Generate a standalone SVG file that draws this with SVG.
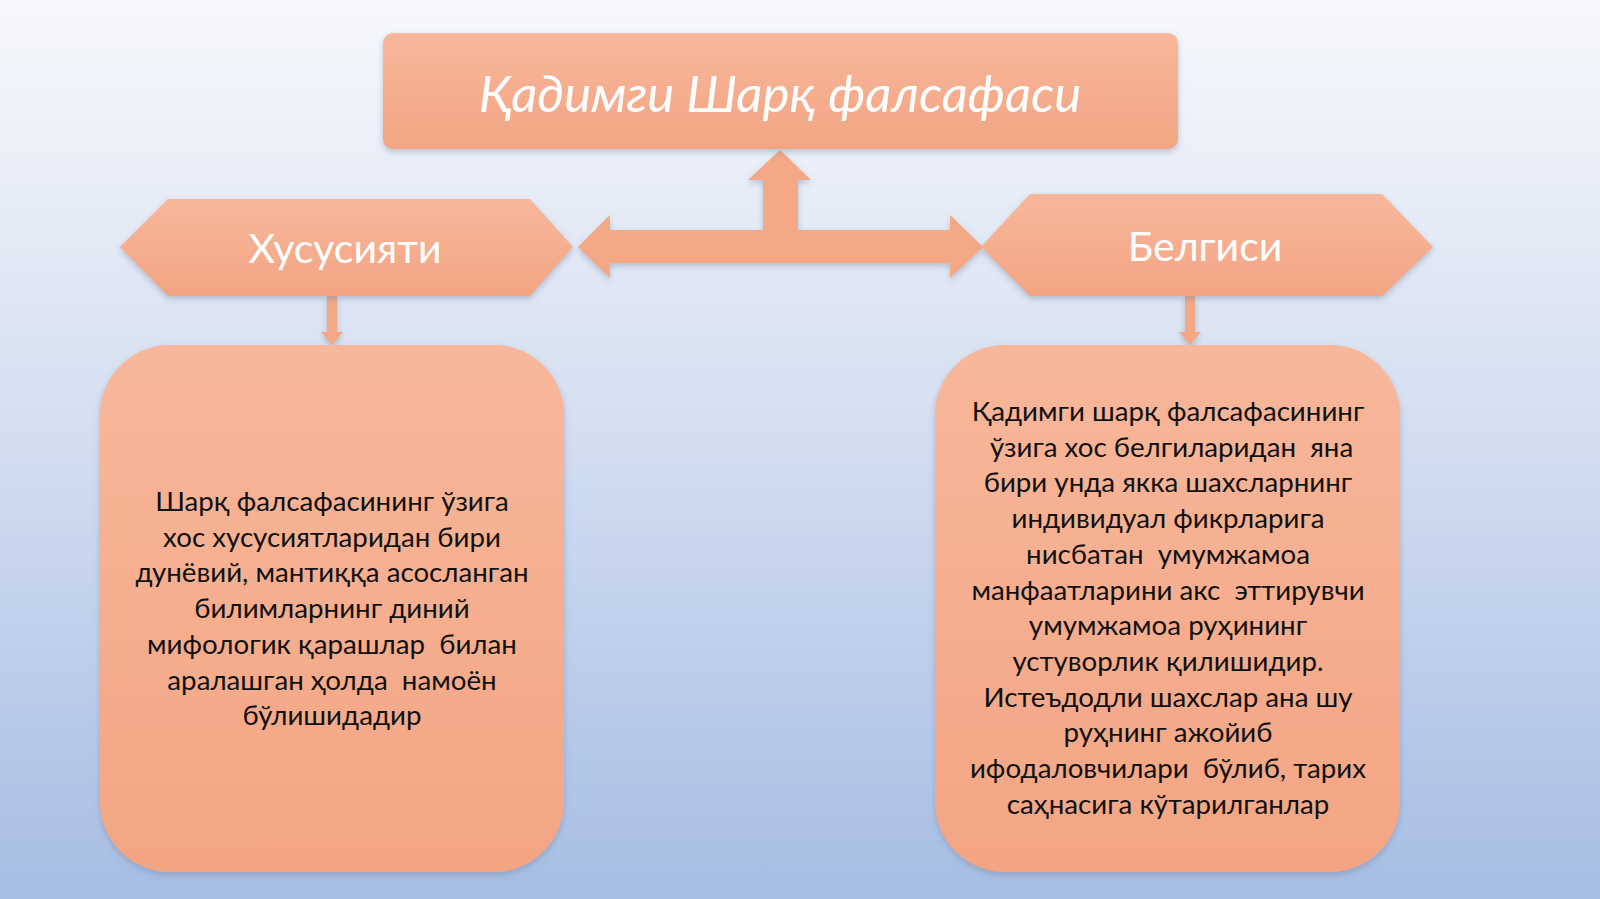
<svg xmlns="http://www.w3.org/2000/svg" width="1600" height="899" viewBox="0 0 1600 899">
<defs>
<linearGradient id="bg" x1="0" y1="0" x2="0" y2="1"><stop offset="0" stop-color="#f7f8fc"/><stop offset="0.45" stop-color="#d6e0f1"/><stop offset="1" stop-color="#a6bde4"/></linearGradient>
<linearGradient id="box" x1="0" y1="0" x2="0" y2="1"><stop offset="0" stop-color="#f8b79b"/><stop offset="1" stop-color="#f3a583"/></linearGradient>
<filter id="sh" x="-10%" y="-10%" width="120%" height="130%"><feDropShadow dx="0" dy="3" stdDeviation="3" flood-color="#6a7a99" flood-opacity="0.4"/></filter>
</defs>
<style>
.s{fill:url(#box);filter:url(#sh)}
.a{fill:#f4a886;filter:url(#sh)}
.h{font-family:Lato,"Open Sans",sans-serif;fill:#fff;text-anchor:middle}
.b{font-family:Lato,"Open Sans",sans-serif;fill:#111;font-size:27.7px;text-anchor:middle;white-space:pre}
</style>
<rect width="1600" height="899" fill="url(#bg)"/>
<g id="connectors">
<polygon class="a" points="578,247 610,215 610,230 763,230 763,180 748,180 780,150 811,180 798,180 798,230 950,230 950,215 983,247 950,278 950,263 610,263 610,278"/>
<polygon class="a" points="327,296 337,296 337,332 343,332 332,345 321,332 327,332"/>
<polygon class="a" points="1185,296 1195,296 1195,332 1201,332 1190,345 1179,332 1185,332"/>
</g>
<g id="title">
<rect class="s" x="383" y="33" width="795" height="116" rx="10"/>
<text class="h" x="780" y="112" font-size="51" font-style="italic">Қадимги Шарқ фалсафаси</text>
</g>
<g id="left-hex">
<polygon class="s" points="120,247 168,199 530,199 573,247 530,296 168,296"/>
<text class="h" x="345" y="263" font-size="41">Хусусияти</text>
</g>
<g id="right-hex">
<polygon class="s" points="981,247 1030,194 1382,194 1433,247 1382,296 1030,296"/>
<text class="h" x="1205" y="261" font-size="41">Белгиси</text>
</g>
<g id="left-box">
<rect class="s" x="100" y="345" width="464" height="527" rx="70"/>
<text class="b" x="332" y="511"><tspan x="332">Шарқ фалсафасининг ўзига</tspan><tspan x="332" dy="35.7">хос хусусиятларидан бири</tspan><tspan x="332" dy="35.7">дунёвий, мантиққа асосланган</tspan><tspan x="332" dy="35.7">билимларнинг диний</tspan><tspan x="332" dy="35.7">мифологик қарашлар  билан</tspan><tspan x="332" dy="35.7">аралашган ҳолда  намоён</tspan><tspan x="332" dy="35.7">бўлишидадир</tspan></text>
</g>
<g id="right-box">
<rect class="s" x="935" y="345" width="465" height="527" rx="70"/>
<text class="b" x="1168" y="421"><tspan x="1168">Қадимги шарқ фалсафасининг</tspan><tspan x="1168" dy="35.7"> ўзига хос белгиларидан  яна</tspan><tspan x="1168" dy="35.7">бири унда якка шахсларнинг</tspan><tspan x="1168" dy="35.7">индивидуал фикрларига</tspan><tspan x="1168" dy="35.7">нисбатан  умумжамоа</tspan><tspan x="1168" dy="35.7">манфаатларини акс  эттирувчи</tspan><tspan x="1168" dy="35.7">умумжамоа руҳининг</tspan><tspan x="1168" dy="35.7">устуворлик қилишидир.</tspan><tspan x="1168" dy="35.7">Истеъдодли шахслар ана шу</tspan><tspan x="1168" dy="35.7">руҳнинг ажойиб</tspan><tspan x="1168" dy="35.7">ифодаловчилари  бўлиб, тарих</tspan><tspan x="1168" dy="35.7">саҳнасига кўтарилганлар</tspan></text>
</g>
</svg>
